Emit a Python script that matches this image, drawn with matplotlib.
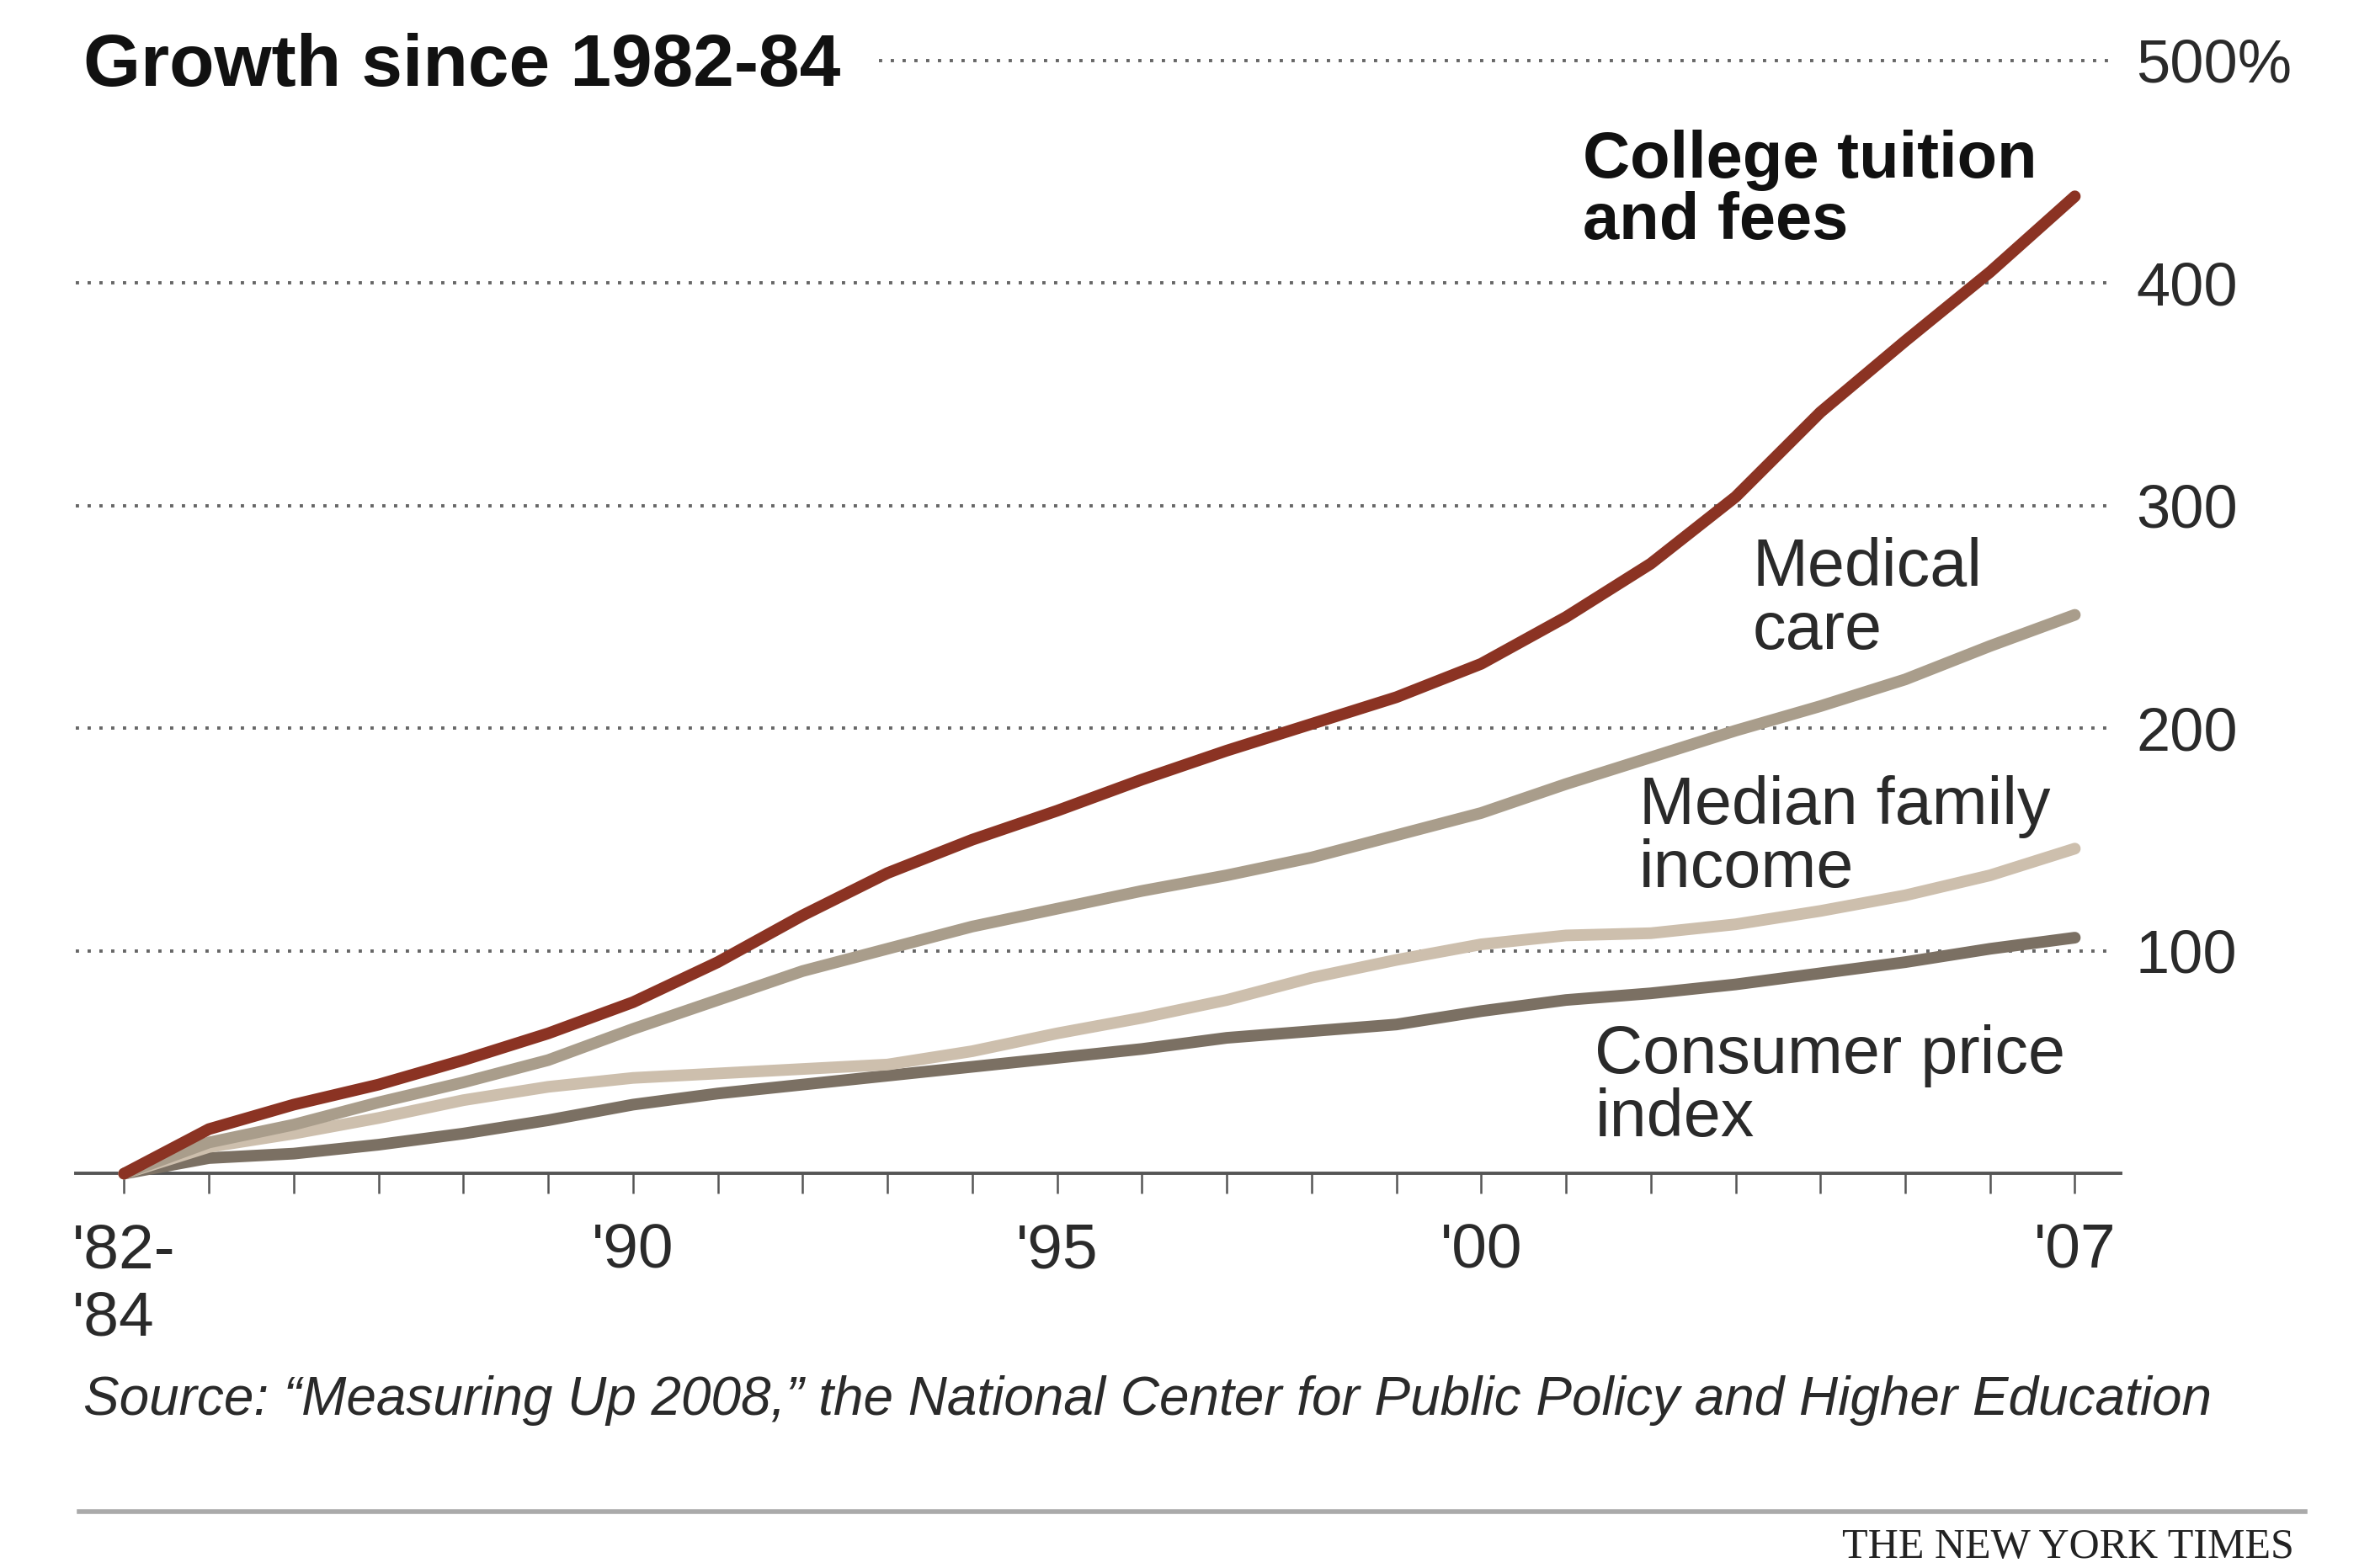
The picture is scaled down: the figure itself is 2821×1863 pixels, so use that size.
import matplotlib.pyplot as plt
from matplotlib.lines import Line2D

plt.rcParams['font.family'] = ['Liberation Sans', 'DejaVu Sans']

# Data: growth since 1982-84, percent
years = list(range(1984, 2008))
tuition = [0, 20, 31, 40, 51, 63, 77, 95, 116, 135, 150, 163, 177, 190, 202, 214,
           229, 250, 274, 304, 342, 374, 405, 439]
medical = [0, 14, 22, 32, 41, 51, 65, 78, 91, 101, 111, 119, 127, 134, 142, 152,
           162, 175, 187, 199, 210, 222, 237, 251]
income = [0, 12, 18, 25, 33, 39, 43, 45, 47, 49, 55, 63, 70, 78, 88, 96,
          103, 107, 108, 112, 118, 125, 134, 146]
cpi = [0, 7, 9, 13, 18, 24, 31, 36, 40, 44, 48, 52, 56, 61, 64, 67,
       73, 78, 81, 85, 90, 95, 101, 106]

grid_values = [100, 200, 300, 400, 500]
grid_labels = ['100', '200', '300', '400', '500%']
xtick_years = [1984, 1990, 1995, 2000, 2007]
xtick_labels = ["'82-\n'84", "'90", "'95", "'00", "'07"]

fig = plt.figure(figsize=(28.21, 18.63), dpi=100)
ax = fig.add_axes([0.0319, 0.2515, 0.861, 0.7099])
ax.set_xlim(1983.43, 2007.54)
ax.set_ylim(0, 500)

# dotted gridlines (top one starts after title)
for v in grid_values:
    start = 1992.9 if v == 500 else 1983.43
    ax.plot([start, 2007.45], [v, v], color='#666666', lw=2.8,
            linestyle=(0, (1, 2.6)), clip_on=False, zorder=1)

# series
line_kw = dict(lw=10, solid_capstyle='round', solid_joinstyle='round', clip_on=False)
ax.plot(years, cpi, color='#7b7063', zorder=3, **line_kw)
ax.plot(years, income, color='#cdbfad', zorder=3, **line_kw)
ax.plot(years, medical, color='#a99d8b', zorder=4, **line_kw)
ax.plot(years, tuition, color='#8b3323', zorder=5, **line_kw)

# axes styling
for s in ['top', 'left', 'right']:
    ax.spines[s].set_visible(False)
ax.spines['bottom'].set_color('#555555')
ax.spines['bottom'].set_linewidth(2.8)
ax.spines['bottom'].set_zorder(2)

ax.set_xticks(xtick_years)
ax.set_xticklabels(xtick_labels, fontsize=54, color='#2a2a2a', multialignment='left')
ax.set_xticks(years, minor=True)
ax.tick_params(axis='x', which='both', direction='out', length=17, width=1.8,
               color='#555555', pad=25)

ax.yaxis.tick_right()
ax.set_yticks(grid_values)
ax.set_yticklabels(grid_labels, fontsize=52, color='#2a2a2a')
ax.tick_params(axis='y', length=0, pad=13)

# series labels
ax.text(2001.2, 469, 'College tuition\nand fees', fontsize=56, fontweight='bold',
        va='top', ha='left', linespacing=1.0, color='#111111')
ax.text(2003.2, 286, 'Medical\ncare', fontsize=57, va='top', ha='left',
        linespacing=1.0, color='#2a2a2a')
ax.text(2001.86, 179, 'Median family\nincome', fontsize=57, va='top', ha='left',
        linespacing=1.0, color='#2a2a2a')
ax.text(2001.34, 67, 'Consumer price\nindex', fontsize=57, va='top', ha='left',
        linespacing=1.0, color='#2a2a2a')

# title, source, credit
fig.text(0.035, 0.945, 'Growth since 1982-84', fontsize=63, fontweight='bold',
         va='baseline', ha='left', color='#111111')
fig.text(0.035, 0.1068, 'Source: \u201cMeasuring Up 2008,\u201d the National Center for Public Policy and Higher Education',
         fontsize=46, style='italic', va='center', ha='left', color='#2a2a2a')
fig.add_artist(Line2D([0.0332, 0.9706], [0.036, 0.036], color='#aaaaaa', lw=4,
                      transform=fig.transFigure))
fig.text(0.966, 0.0129, 'THE NEW YORK TIMES', fontsize=36, family='Liberation Serif',
         va='center', ha='right', color='#222222')

fig.savefig('out.png', dpi=100, facecolor='white')
